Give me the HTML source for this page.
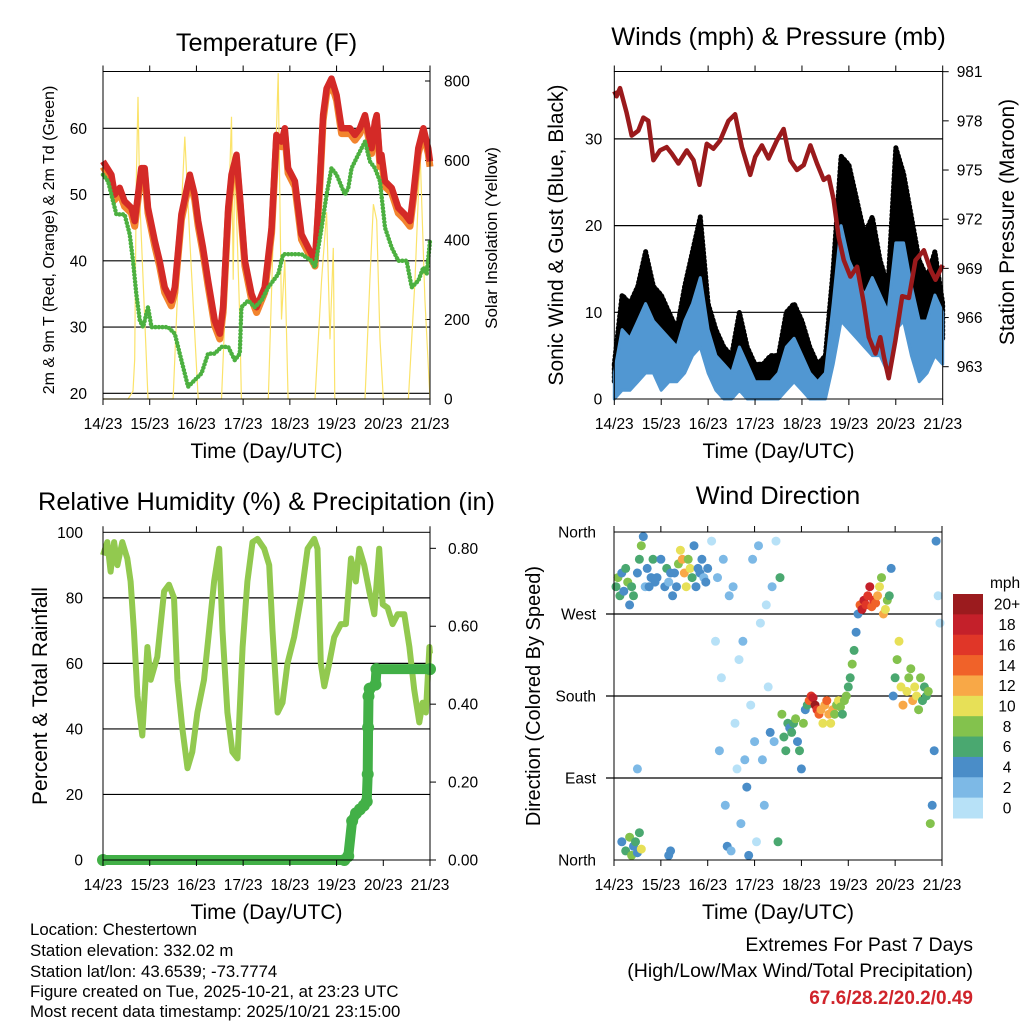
<!DOCTYPE html>
<html><head><meta charset="utf-8"><style>
html,body{margin:0;padding:0;background:#fff;}
svg{display:block;font-family:"Liberation Sans",sans-serif;}
</style></head><body>
<svg id="c" width="1024" height="1024" viewBox="0 0 1024 1024" xmlns="http://www.w3.org/2000/svg">
<g id="g1"></g>
<g id="g2"></g>
<g id="g3"></g>
<g id="g4"></g>
<g font-size="16.8" fill="#000">
<text x="30" y="935">Location: Chestertown</text>
<text x="30" y="956">Station elevation: 332.02 m</text>
<text x="30" y="977">Station lat/lon: 43.6539; -73.7774</text>
<text x="30" y="997">Figure created on Tue, 2025-10-21, at 23:23 UTC</text>
<text x="30" y="1017">Most recent data timestamp: 2025/10/21 23:15:00</text>
</g>
<g text-anchor="end">
<text x="973" y="951" font-size="19.5">Extremes For Past 7 Days</text>
<text x="973" y="977" font-size="19.5">(High/Low/Max Wind/Total Precipitation)</text>
<text x="973" y="1004" font-size="19" font-weight="bold" fill="#d0242b">67.6/28.2/20.2/0.49</text>
</g>
</svg>
<script>
// ---------- data ----------
const dayLabels=["14/23","15/23","16/23","17/23","18/23","19/23","20/23","21/23"];
const tempT=[0,4.3,6,8.6,11.1,14.6,16.3,19.7,21.4,23.1,26.6,29.1,31.7,35.1,36.9,40.3,44.6,47.1,48.9,51.4,54,57.4,60,61.7,64.3,66,68.6,70.3,72.9,76.3,78.9,83.1,86.6,89.1,91.7,93.4,95.1,98.6,102,105.4,108.9,111.4,113.1,114.9,117.4,120,122.6,126.9,129.4,132,134.6,138,139.7,140.6,142.3,143.1,144.9,148.3,151.7,155.1,157.7,159.4,162,164.6,167.1,168];
const tempV=[55,53,50,51,49,48,46,54,54,48,43,40,36,34,36,47,53,50,46,42,37,31,29,33,48,53,56,50,40,35,33,36,45,59,58,60,54,52,44,42,40,52,62,66,67.5,65,60,60,59,60,62,57,61,62,55,56,52,51,48,47,46,50,57,60,57,55];
const dewT=[0,2.6,4.3,6.9,11.1,13.7,15.4,17.1,18.9,20.6,23.1,24.9,30,33.4,36.9,40.3,43.7,47.1,50.6,54,57.4,60.9,64.3,67.7,70.3,71.1,74.6,78,81.4,84.9,90,92.6,96.9,102,107.1,108.9,112.3,114.9,117.4,120,124.3,126,127.7,131.1,134.6,137.1,139.7,142.3,144.9,148.3,151.7,156,158.6,162,164.6,166.3,168];
const dewV=[53,52,50,47,47,44,40,35,31,30,33,30,30,30,29,25,21,22,23,26,26,27,27,25,26,33,34,33,34,36,38,41,41,41,40,39,45,50,54,53,50,51,54,56,58,55,54,52,45,42,40,40,36,37,39,38,43];
const solarT=[0,12.9,15.4,16.3,17.1,18,18.9,20.6,22.3,23.1,36,38.6,42,44.6,48.9,60.9,63.4,66,66.9,67.7,70.3,71.1,84.9,87.4,90,91.7,93.4,95.1,108.9,112.3,114.9,116.6,118.3,119.1,134.6,137.1,138.9,140.6,142.3,144,156.9,160.3,162.9,165.4,168];
const solarV=[0,0,20,100,550,760,500,300,100,0,0,300,660,400,0,0,300,710,300,600,200,0,0,400,820,200,350,0,0,300,470,150,380,0,0,300,490,450,150,0,0,300,620,250,0];
const presT=[0,1.2,2.9,6.3,8.9,12.3,14.9,17.4,20,23.4,26.8,29.4,32.8,37.1,40.5,43.6,47.3,50.7,54.1,58.4,61.8,65.3,69.5,72.1,75.5,78.9,83.2,86.6,90,93.4,96.9,100.3,103.7,107.1,109.7,112.2,114.8,117.4,120.8,124.2,127.6,130.2,133.6,136.1,137.9,140.4,143.8,147.3,150.7,154.1,158.4,161.8,164.3,168];
const presV=[979.8,979.5,980,978.5,977.1,977.4,978.2,978,975.6,976.2,976.4,976,975.4,976.2,975.6,974.1,976.6,976.3,976.8,978,978.4,976.4,974.7,975.8,976.5,975.7,976.8,977.5,975.6,975,975.3,976.5,975.4,974.4,974.6,973.2,970.9,969.5,968.5,969.1,966.9,964.8,963.8,964.8,963.6,962.3,964.6,967.3,967.2,969.5,970.1,968.9,968.3,969.2];
const windT=[0,4,8,12,16,20,24,28,32,36,40,44,48,52,56,60,64,68,72,76,80,84,88,92,96,100,104,108,112,116,120,124,128,132,136,140,144,148,152,156,160,164,168];
const windLo=[0,1,1,2,3,3,1,2,2,3,5,6,3,1,0,0,1,0,0,0,0,0,1,2,1,0,0,0,4,9,8,7,6,5,5,3,8,9,5,2,3,5,4];
const windHi=[3,8,7,9,11,9,8,7,6,9,11,14,8,5,4,3,6,4,2,2,2,3,6,7,5,3,2,3,11,20,16,14,12,14,12,10,18,18,13,9,9,12,10];
const gustLo=[2,4,5,6,7,6,5,4,3,5,8,10,5,3,1,1,3,1,1,1,1,1,3,4,3,1,1,2,6,14,14,12,10,9,8,6,14,14,10,5,6,8,7];
const gustHi=[4,12,11,13,17,13,12,10,8,13,17,21,11,8,6,5,10,6,4,4,5,5,10,11,9,6,4,5,15,28,27,23,19,21,16,13,29,26,21,16,14,17,11];
const rhT=[0,2.2,3.9,5.7,7.4,9.9,12.5,14.2,15.9,17.7,20.2,22.8,24.5,27.9,31.4,33.9,36.5,38.2,40.8,43.4,45.9,48.5,51.9,54.5,57.1,59.7,61.4,63.9,66.5,69.1,71.7,74.2,76.8,79.4,82.8,85.4,87.1,89.7,92.2,94.8,98.2,101.7,105.1,108.5,110.2,111.9,113.7,116.2,118.8,122.2,124.8,127.4,129.9,131.7,134.2,136.8,139.4,141.9,143.7,146.2,148.8,151.4,154.8,157.4,159.9,162.5,164.2,165.9,167.7,168];
const rhV=[93,97,88,97,90,97,92,85,70,50,38,65,55,62,82,84,80,55,40,28,33,45,55,70,85,95,70,45,33,31,65,85,97,98,95,90,70,45,48,60,68,80,95,98,95,60,53,60,68,72,72,92,85,95,90,82,75,95,78,77,72,75,75,65,52,42,48,45,65,63];
const prT=[0,124,126,128,130,132,134,135.5,136,136.2,136.4,137,140,140.5,168];
const prV=[0,0,0.01,0.1,0.12,0.13,0.14,0.15,0.22,0.34,0.42,0.44,0.45,0.49,0.49];
const wdT=[1,2,3,4,5,6,7,8,9,10,12,13,14,15,16,17,18,19,20,21,22,24,26,27,28,29,30,31,32,33,34,35,36,37,38,39,40,41,42,43,44,45,46,47,48,4,6,8,9,10,11,12,13,14,28,29,12,50,52,53,54,55,56,57,58,59,60,61,62,63,64,65,66,67,68,69,70,71,72,73,74,75,76,77,78,79,80,81,82,83,84,85,86,87,88,89,90,91,92,93,94,95,96,97,98,99,100,101,102,103,104,105,106,107,108,109,110,111,112,113,114,115,116,117,118,119,120,121,122,123,124,125,126,127,128,129,130,131,132,133,134,135,136,137,138,139,140,141,142,143,144,145,146,147,148,150,151,152,153,154,155,156,157,158,159,160,161,162,163,164,165,166,167];
const wdD=[300,310,290,315,295,320,305,280,300,290,315,330,345,355,300,320,300,310,330,305,310,330,300,320,305,315,290,315,300,325,340,330,315,300,330,320,310,345,300,320,315,330,310,305,320,20,10,25,5,15,20,8,30,12,5,10,100,350,240,310,120,200,330,60,15,290,10,300,150,100,220,40,240,110,80,5,170,330,130,20,345,260,110,60,280,190,140,300,130,350,20,310,160,135,120,150,145,140,150,155,130,120,100,150,165,170,175,180,178,170,165,160,165,150,170,175,160,150,165,160,170,175,168,160,175,180,190,200,215,230,250,270,280,275,285,280,290,300,278,285,282,290,300,310,270,275,285,290,320,180,200,220,240,190,170,185,200,210,175,190,180,165,200,175,190,180,185,40,60,120,350,290,260,180];
const wdS=[6,8,7,5,4,6,8,5,7,6,4,6,8,5,3,4,4,5,6,4,4,5,4,6,3,5,5,4,4,8,10,12,13,10,9,11,6,4,5,4,5,4,3,4,4,5,6,8,9,4,6,5,7,10,5,4,2,1,0,2,2,1,2,2,4,3,2,3,0,1,1,3,2,2,5,4,1,2,2,1,3,0,3,2,1,1,4,2,3,1,6,7,8,6,6,7,5,7,6,8,4,6,5,8,4,6,14,17,18,20,16,14,12,11,13,14,12,10,12,9,8,10,8,7,9,8,7,6,8,6,4,5,14,18,19,17,16,18,15,16,14,12,10,8,12,10,8,6,5,4,6,8,10,11,12,10,9,8,12,11,10,9,8,7,6,7,8,8,4,5,5,1,0,1];
const spdLabels=["20+","18","16","14","12","10","8","6","4","2","0"];
const spdColors=["#9b1b1e","#c4202a","#e03628","#f06229","#f8a847","#e7e057","#83c24d","#4aa870","#4a8dc8","#7db9e6","#b7e1f7"];
// ---------- helpers ----------
const NS="http://www.w3.org/2000/svg";
function mk(parent,tag,attrs,text){const e=document.createElementNS(NS,tag);for(const k in attrs)e.setAttribute(k,attrs[k]);if(text!==undefined)e.textContent=text;parent.appendChild(e);return e;}
function pathFrom(T,V,sx,sy){return T.map((t,i)=>(i?'L':'M')+sx(t).toFixed(1)+','+sy(V[i]).toFixed(1)).join('');}
function bandFrom(T,lo,hi,sx,sy){let d=T.map((t,i)=>(i?'L':'M')+sx(t).toFixed(1)+','+sy(hi[i]).toFixed(1)).join('');for(let i=T.length-1;i>=0;i--)d+='L'+sx(T[i]).toFixed(1)+','+sy(lo[i]).toFixed(1);return d+'Z';}
function frame(g,x0,y0,x1,y1,title,ty,xlabel){
  const r=mk(g,'rect',{x:x0,y:y0,width:x1-x0,height:y1-y0,fill:'none',stroke:'#000','stroke-width':1});
  
  const t=mk(g,'text',{x:(x0+x1)/2,y:ty,'text-anchor':'middle','font-size':25.3},title);
  
  dayLabels.forEach((lab,i)=>{const x=x0+i*(x1-x0)/7;
    const tk=mk(g,'line',{x1:x,x2:x,y1:y1,y2:y1+6,stroke:'#000'});
    const tt=mk(g,'line',{x1:x,x2:x,y1:y0,y2:y0-6,stroke:'#000'});
    const tl=mk(g,'text',{x:x,y:y1+30,'text-anchor':'middle','font-size':15.5},lab);});
  const xl=mk(g,'text',{x:(x0+x1)/2,y:y1+59,'text-anchor':'middle','font-size':21},xlabel);
  
}
function yLabel(g,x,y,txt,fs){const t=mk(g,'text',{x:x,y:y,'text-anchor':'middle','font-size':fs,transform:`rotate(-90 ${x} ${y})`},txt);}
function hgrid(g,x0,x1,y){const l=mk(g,'line',{x1:x0,x2:x1,y1:y,y2:y,stroke:'#000','stroke-width':1.2});}
function tickLab(g,x,y,txt,anchor){const t=mk(g,'text',{x:x,y:y+5.5,'text-anchor':anchor,'font-size':15.5},txt);}

// ---------- panel 1 ----------
(function(){const g=document.getElementById('g1');const x0=103,x1=430,y0=71.5,y1=399;
 const sx=t=>x0+t/168*(x1-x0), sy=v=>393.3-(v-20)*6.625, ss=v=>399-v*0.3975;
 [20,30,40,50,60].forEach(v=>{hgrid(g,x0,x1,sy(v));tickLab(g,x0-16,sy(v),String(v),'end');});
 [0,200,400,600,800].forEach(v=>{tickLab(g,x1+14,ss(v),String(v),'start');const l=mk(g,'line',{x1:x1,x2:x1-5,y1:ss(v),y2:ss(v),stroke:'#000'});});
 const s=mk(g,'path',{d:pathFrom(solarT,solarV,sx,ss),fill:'none',stroke:'#fbe36a','stroke-width':1.2});
 const o=mk(g,'path',{d:pathFrom(tempT,tempV.map(v=>v-0.8),sx,sy),fill:'none',stroke:'#f2842e','stroke-width':7,'stroke-linejoin':'round'});
 const r=mk(g,'path',{d:pathFrom(tempT,tempV,sx,sy),fill:'none',stroke:'#d42a27','stroke-width':6.5,'stroke-linejoin':'round'});
 const d=mk(g,'path',{d:pathFrom(dewT,dewV,sx,sy),fill:'none',stroke:'#4cb040','stroke-width':4.5,'stroke-dasharray':'0 3.5','stroke-linecap':'round'});
 frame(g,x0,y0,x1,y1,'Temperature (F)',51,'Time (Day/UTC)');
 yLabel(g,54,240,'2m & 9m T (Red, Orange) & 2m Td (Green)',16);
 yLabel(g,497,238,'Solar Insolation (Yellow)',17);
})();
// ---------- panel 2 ----------
(function(){const g=document.getElementById('g2');const x0=614.3,x1=942.7,y0=71.5,y1=399;
 const sx=t=>x0+t/168*(x1-x0), sy=v=>399-v*8.67, sp=v=>366.7-(v-963)*16.39;
 [10,20,30].forEach(v=>hgrid(g,x0,x1,sy(v)));
 [0,10,20,30].forEach(v=>tickLab(g,x0-12,sy(v),String(v),'end'));
 [963,966,969,972,975,978,981].forEach(v=>{tickLab(g,x1+14,sp(v),String(v),'start');const l=mk(g,'line',{x1:x1,x2:x1+6,y1:sp(v),y2:sp(v),stroke:'#000'});});
 const gb=mk(g,'path',{d:bandFrom(windT,gustLo,gustHi,sx,sy),fill:'#000',stroke:'#000','stroke-width':5,'stroke-linejoin':'round','stroke-dasharray':'1 3','stroke-linecap':'round'});
 const wb=mk(g,'path',{d:bandFrom(windT,windLo,windHi,sx,sy),fill:'#5197d2',stroke:'#5197d2','stroke-width':3,'stroke-linejoin':'round'});
 const p=mk(g,'path',{d:pathFrom(presT,presV,sx,sp),fill:'none',stroke:'#9a1a1c','stroke-width':4.5,'stroke-linejoin':'round'});
 frame(g,x0,y0,x1,y1,'Winds (mph) & Pressure (mb)',45,'Time (Day/UTC)');
 yLabel(g,563,235,'Sonic Wind & Gust (Blue, Black)',21);
 yLabel(g,1014,222,'Station Pressure (Maroon)',21);
})();
// ---------- panel 3 ----------
(function(){const g=document.getElementById('g3');const x0=103,x1=430,y0=532.3,y1=860;
 const sx=t=>x0+t/168*(x1-x0), sy=v=>860-v*3.277, sr=v=>860-v*389.6;
 [20,40,60,80].forEach(v=>hgrid(g,x0,x1,sy(v)));
 [0,20,40,60,80,100].forEach(v=>tickLab(g,x0-20,sy(v),String(v),'end'));
 [0,0.2,0.4,0.6,0.8].forEach(v=>{tickLab(g,x1+18,sr(v),v.toFixed(2),'start');const l=mk(g,'line',{x1:x1,x2:x1+6,y1:sr(v),y2:sr(v),stroke:'#000'});});
 const rh=mk(g,'path',{d:pathFrom(rhT,rhV,sx,sy),fill:'none',stroke:'#92c94f','stroke-width':6,'stroke-linejoin':'round'});
 const pr=mk(g,'path',{d:pathFrom(prT,prV,sx,sr),fill:'none',stroke:'#42b047','stroke-width':10,'stroke-linecap':'round','stroke-linejoin':'round'});
 prT.forEach((t,i)=>{const c=mk(g,'circle',{cx:sx(t),cy:sr(prV[i]),r:6,fill:'#42b047'});});
 frame(g,x0,y0,x1,y1,'Relative Humidity (%) & Precipitation (in)',510,'Time (Day/UTC)');
 yLabel(g,47,696,'Percent & Total Rainfall',21);
})();
// ---------- panel 4 ----------
(function(){const g=document.getElementById('g4');const x0=614,x1=942,y0=532,y1=860;
 const sx=t=>x0+t/168*(x1-x0), sy=d=>860-d*328/360;
 [90,180,270].forEach(v=>hgrid(g,x0-8,x1,sy(v)));
 ["North","East","South","West","North"].forEach((n,i)=>tickLab(g,x0-18,sy(i*90),n,'end'));
 const n=Math.min(wdT.length,wdD.length,wdS.length);
 for(let i=0;i<n;i++){const k=Math.max(0,Math.min(10,10-Math.floor(wdS[i]/2)));
  const c=mk(g,'circle',{cx:sx(wdT[i]).toFixed(1),cy:sy(wdD[i]).toFixed(1),r:4.5,fill:spdColors[k]});
  
  }
 frame(g,x0,y0,x1,y1,'Wind Direction',504,'Time (Day/UTC)');
 yLabel(g,540,696,'Direction (Colored By Speed)',20);
 const mt=mk(g,'text',{x:990,y:588,'font-size':15.5},'mph');
 const bh=(818-594)/11;
 spdLabels.forEach((lab,i)=>{const b=mk(g,'rect',{x:953,y:594+i*bh,width:30,height:bh+0.5,fill:spdColors[i]});
  const t=mk(g,'text',{x:1007,y:594+i*bh+bh/2+5.5,'text-anchor':'middle','font-size':15.5},lab);});
})();
</script>
</body></html>
